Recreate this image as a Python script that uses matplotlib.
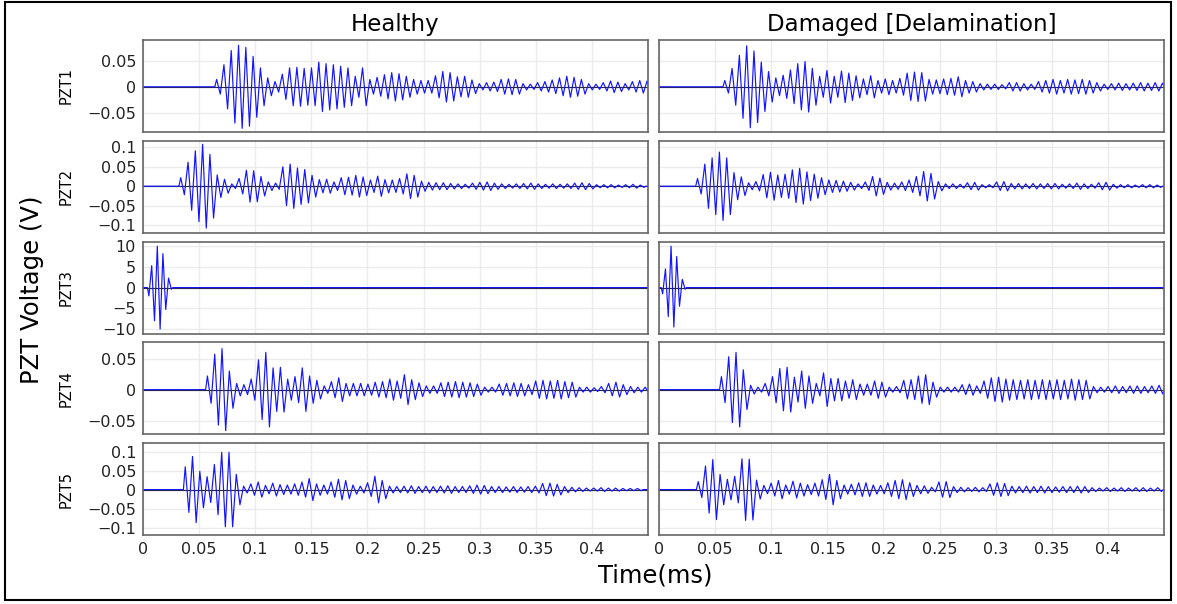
import numpy as np
import matplotlib
matplotlib.use("Agg")
import matplotlib.pyplot as plt
from matplotlib.patches import Rectangle

TIME_END = 0.45      # ms
CYCLE = 0.0065       # carrier period of the received wave packets (ms)
PULSE = 0.005        # period of the actuator pulse (PZT3)

# onset time (ms) and per-cycle peak amplitude (V)
h1_t0 = 0.064
h1 = [0.014, 0.042, 0.069, 0.079, 0.075, 0.058, 0.036, 0.017, 0.010, 0.024,
      0.036, 0.037, 0.035, 0.036, 0.047, 0.044, 0.042, 0.039, 0.036, 0.020,
      0.036, 0.014, 0.018, 0.023, 0.027, 0.025, 0.020, 0.014, 0.012, 0.012,
      0.021, 0.029, 0.027, 0.019, 0.020, 0.013, 0.006, 0.008, 0.009, 0.014,
      0.015, 0.014, 0.006, 0.005, 0.008, 0.010, 0.013, 0.017, 0.020, 0.018,
      0.014, 0.006, 0.005, 0.008, 0.011, 0.009, 0.006, 0.010, 0.012, 0.011,
      0.008]
d1_t0 = 0.057
d1 = [0.012, 0.035, 0.060, 0.078, 0.068, 0.047, 0.029, 0.017, 0.022, 0.032,
      0.044, 0.048, 0.035, 0.020, 0.031, 0.020, 0.030, 0.026, 0.021, 0.015,
      0.021, 0.012, 0.015, 0.012, 0.016, 0.026, 0.028, 0.027, 0.014, 0.013,
      0.015, 0.016, 0.019, 0.012, 0.010, 0.006, 0.005, 0.005, 0.004, 0.008,
      0.008, 0.006, 0.005, 0.010, 0.012, 0.014, 0.012, 0.014, 0.013, 0.014,
      0.012, 0.008, 0.005, 0.006, 0.007, 0.006, 0.007, 0.008, 0.007, 0.008,
      0.007, 0.006]

h2_t0 = 0.032
h2 = [0.022, 0.062, 0.091, 0.108, 0.082, 0.029, 0.018, 0.006, 0.020, 0.041,
      0.040, 0.025, 0.011, 0.008, 0.050, 0.057, 0.047, 0.043, 0.028, 0.017,
      0.018, 0.011, 0.022, 0.023, 0.028, 0.024, 0.016, 0.026, 0.017, 0.016,
      0.020, 0.032, 0.028, 0.013, 0.010, 0.009, 0.009, 0.007, 0.006, 0.005,
      0.008, 0.010, 0.011, 0.008, 0.006, 0.005, 0.006, 0.007, 0.008, 0.006,
      0.005, 0.006, 0.005, 0.006, 0.008, 0.009, 0.007, 0.004, 0.004, 0.004,
      0.003, 0.004, 0.005, 0.003]
d2_t0 = 0.0327
d2 = [0.020, 0.057, 0.073, 0.088, 0.073, 0.035, 0.024, 0.009, 0.012, 0.030,
      0.036, 0.029, 0.031, 0.042, 0.046, 0.037, 0.031, 0.022, 0.016, 0.015,
      0.013, 0.010, 0.006, 0.011, 0.025, 0.021, 0.010, 0.008, 0.011, 0.016,
      0.025, 0.038, 0.033, 0.012, 0.006, 0.006, 0.005, 0.009, 0.010, 0.004,
      0.004, 0.011, 0.012, 0.007, 0.007, 0.006, 0.007, 0.006, 0.007, 0.007,
      0.005, 0.006, 0.008, 0.006, 0.005, 0.009, 0.010, 0.005, 0.004, 0.004,
      0.003, 0.004, 0.004, 0.003]

# actuator pulse: signed half-cycle peaks
h3_t0 = 0.004
h3 = [-2.0, 5.3, -8.0, 10.0, -10.0, 8.2, -5.3, 2.3, -0.4]
d3_t0 = 0.002
d3 = [-1.5, 4.5, -7.0, 10.0, -9.5, 7.5, -4.5, 2.0, -0.4]

h4_t0 = 0.0558
h4 = [0.022, 0.057, 0.066, 0.030, 0.010, 0.008, 0.017, 0.048, 0.060, 0.035,
      0.036, 0.017, 0.021, 0.035, 0.022, 0.015, 0.006, 0.013, 0.019, 0.010,
      0.010, 0.010, 0.009, 0.012, 0.013, 0.017, 0.014, 0.024, 0.016, 0.011,
      0.006, 0.006, 0.011, 0.012, 0.013, 0.012, 0.011, 0.009, 0.004, 0.004,
      0.009, 0.010, 0.011, 0.010, 0.008, 0.014, 0.015, 0.014, 0.015, 0.013,
      0.012, 0.004, 0.004, 0.003, 0.005, 0.010, 0.012, 0.008, 0.005, 0.004,
      0.004]
d4_t0 = 0.054
d4 = [0.021, 0.053, 0.060, 0.032, 0.007, 0.004, 0.010, 0.021, 0.034, 0.036,
      0.020, 0.030, 0.022, 0.010, 0.027, 0.018, 0.018, 0.014, 0.016, 0.009,
      0.009, 0.014, 0.012, 0.004, 0.005, 0.015, 0.016, 0.022, 0.024, 0.012,
      0.004, 0.004, 0.004, 0.008, 0.009, 0.006, 0.014, 0.019, 0.020, 0.017,
      0.016, 0.015, 0.016, 0.015, 0.016, 0.015, 0.016, 0.015, 0.017, 0.016,
      0.015, 0.005, 0.004, 0.005, 0.006, 0.005, 0.006, 0.006, 0.005, 0.006,
      0.007]

h5_t0 = 0.036
h5 = [0.060, 0.087, 0.048, 0.034, 0.066, 0.098, 0.098, 0.040, 0.009, 0.015,
      0.020, 0.011, 0.017, 0.013, 0.012, 0.015, 0.020, 0.029, 0.015, 0.012,
      0.020, 0.027, 0.024, 0.012, 0.009, 0.018, 0.035, 0.024, 0.009, 0.008,
      0.009, 0.010, 0.008, 0.009, 0.008, 0.009, 0.010, 0.008, 0.008, 0.010,
      0.012, 0.011, 0.008, 0.008, 0.007, 0.008, 0.007, 0.008, 0.009, 0.016,
      0.017, 0.014, 0.008, 0.006, 0.005, 0.004, 0.004, 0.005, 0.004, 0.004,
      0.003, 0.003, 0.003]
d5_t0 = 0.0333
d5 = [0.021, 0.062, 0.079, 0.040, 0.027, 0.035, 0.081, 0.080, 0.025, 0.011,
      0.017, 0.024, 0.012, 0.022, 0.017, 0.013, 0.017, 0.026, 0.040, 0.024,
      0.012, 0.014, 0.018, 0.018, 0.012, 0.011, 0.018, 0.024, 0.026, 0.018,
      0.011, 0.010, 0.006, 0.020, 0.021, 0.008, 0.006, 0.005, 0.006, 0.005,
      0.015, 0.018, 0.016, 0.009, 0.008, 0.009, 0.008, 0.009, 0.008, 0.007,
      0.008, 0.008, 0.009, 0.008, 0.005, 0.004, 0.005, 0.004, 0.005, 0.004,
      0.005, 0.005, 0.004, 0.005]

sensors = ["PZT1", "PZT2", "PZT3", "PZT4", "PZT5"]
columns = ["Healthy", "Damaged [Delamination]"]
y_ticks = [[-0.05, 0, 0.05], [-0.1, -0.05, 0, 0.05, 0.1], [-10, -5, 0, 5, 10],
           [-0.05, 0, 0.05], [-0.1, -0.05, 0, 0.05, 0.1]]
y_lims = [(-0.086, 0.089), (-0.12, 0.117), (-11.1, 11.1),
          (-0.072, 0.076), (-0.12, 0.122)]
x_ticks = [0, 0.05, 0.1, 0.15, 0.2, 0.25, 0.3, 0.35, 0.4]


def alternate(amps):
    a = np.asarray(amps, dtype=float)
    out = np.empty(2 * a.size)
    out[0::2] = a
    out[1::2] = -a
    return out


def trace(t0, halves, period):
    halves = np.asarray(halves, dtype=float)
    tk = t0 + period / 4 + np.arange(halves.size) * period / 2
    t_end = t0 + halves.size * period / 2
    t = np.concatenate([[0.0, t0], tk, [t_end]])
    v = np.concatenate([[0.0, 0.0], halves, [0.0]])
    if t_end < TIME_END:
        t = np.append(t, TIME_END)
        v = np.append(v, 0.0)
    return t, v


signals = [
    [trace(h1_t0, alternate(h1), CYCLE), trace(d1_t0, alternate(d1), CYCLE)],
    [trace(h2_t0, alternate(h2), CYCLE), trace(d2_t0, alternate(d2), CYCLE)],
    [trace(h3_t0, h3, PULSE), trace(d3_t0, d3, PULSE)],
    [trace(h4_t0, alternate(h4), CYCLE), trace(d4_t0, alternate(d4), CYCLE)],
    [trace(h5_t0, alternate(h5), CYCLE), trace(d5_t0, alternate(d5), CYCLE)],
]


def fmt(v):
    return "{:g}".format(v).replace("-", "\u2212")


W, H = 1177, 604
fig = plt.figure(figsize=(W / 100, H / 100), dpi=100)
fig.patches.append(Rectangle((5 / W, 4 / H), 1166 / W, 598 / H, transform=fig.transFigure,
                             fill=False, edgecolor="black", linewidth=1.5))

col_left = [143, 659]
col_width = 505
row_top = 40
row_h = 92
row_step = 100.8

for r in range(5):
    top = row_top + r * row_step
    for c in range(2):
        ax = fig.add_axes([col_left[c] / W, 1 - (top + row_h) / H, col_width / W, row_h / H])
        t, v = signals[r][c]
        ax.axhline(0, color="#2b2b2b", lw=0.8, zorder=1)
        ax.plot(t, v, color="#1414ff", lw=0.85, zorder=2)
        ax.set_xlim(0, TIME_END)
        ax.set_ylim(*y_lims[r])
        ax.set_xticks(x_ticks)
        ax.set_yticks(y_ticks[r])
        ax.grid(True, color="#ebebeb", lw=1.0, zorder=0)
        ax.set_axisbelow(True)
        ax.tick_params(length=0, labelsize=11.5, pad=5, colors="#222222")
        for s in ax.spines.values():
            s.set_color("#666666")
            s.set_linewidth(1.2)
        if c == 0:
            ax.set_yticklabels([fmt(y) for y in y_ticks[r]])
            fig.text(66 / W, 1 - (top + row_h / 2) / H, sensors[r], rotation=90,
                     ha="center", va="center", fontsize=10.5)
        else:
            ax.set_yticklabels([])
        if r == 4:
            ax.set_xticklabels([fmt(x) for x in x_ticks])
        else:
            ax.set_xticklabels([])

for c, name in enumerate(columns):
    fig.text((col_left[c] + col_width / 2) / W, 1 - 24 / H, name,
             ha="center", va="center", fontsize=16.5)

fig.text(655 / W, 1 - 576 / H, "Time(ms)", ha="center", va="center", fontsize=17.5)
fig.text(32 / W, 1 - 290 / H, "PZT Voltage (V)", rotation=90,
         ha="center", va="center", fontsize=17.5)

fig.savefig("out.png", dpi=100)
